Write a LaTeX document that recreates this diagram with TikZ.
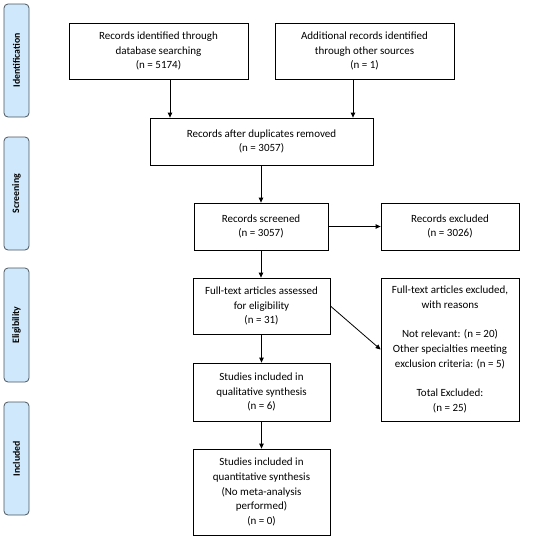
\documentclass[tikz,border=0pt]{standalone}
\usepackage{fontspec}
\setmainfont{Carlito}
\usepackage{xcolor}
\usetikzlibrary{positioning, arrows.meta, calc}
\definecolor{phaseblue}{HTML}{CFE8FB}
\definecolor{phaseedge}{HTML}{4A5560}

\begin{document}
\begin{tikzpicture}[x=1pt, y=-1pt,
    box/.style={draw, line width=0.8pt, align=center, inner sep=2pt,
                font=\fontsize{11}{14.7}\selectfont},
    phase/.style={draw=phaseedge, fill=phaseblue, rounded corners=4pt, line width=0.8pt,
                  minimum width=25pt},
    phasetext/.style={rotate=90, font=\fontsize{9.8}{12}\selectfont\bfseries},
    arr/.style={-{Triangle[length=5pt, width=4.5pt]}, line width=0.8pt},
]
\useasboundingbox (0,0) rectangle (550,539);

% Phase labels (left)
\node[phase, minimum height=113pt] (pid) at (16.5, 60.5) {};
\node[phasetext] (tid) at (pid) {Identification};
\node[phase, minimum height=113pt] (pscr) at (16.5, 193.5) {};
\node[phasetext] (tscr) at (pscr) {Screening};
\node[phase, minimum height=114pt] (pel) at (16.5, 325) {};
\node[phasetext] (tel) at (pel) {Eligibility};
\node[phase, minimum height=113pt] (pinc) at (16.5, 458.5) {};
\node[phasetext] (tinc) at (pinc) {Included};

% Flow boxes
\node[box, minimum width=179pt, minimum height=56pt] (dbrec) at (158.5, 51)
  {Records identified through\\database searching\\(n = 5174)};
\node[box, minimum width=179pt, minimum height=56pt] (othrec) at (364.5, 51)
  {Additional records identified\\through other sources\\(n = 1)};
\node[box, minimum width=223pt, minimum height=47pt] (dedup) at (261.5, 141.5)
  {Records after duplicates removed\\(n = 3057)};
\node[box, minimum width=134pt, minimum height=47pt] (screened) at (261, 226.5)
  {Records screened\\(n = 3057)};
\node[box, minimum width=138pt, minimum height=47pt] (recexcl) at (450, 226.5)
  {Records excluded\\(n = 3026)};
\node[box, minimum width=137pt, minimum height=56pt] (fulltext) at (261.5, 306)
  {Full-text articles assessed\\for eligibility\\(n = 31)};
\node[box, minimum width=138pt, minimum height=143pt] (ftexcl) at (450, 349.5)
  {Full-text articles excluded,\\with reasons\\[14.7pt]Not relevant: (n = 20)\\Other specialties meeting\\exclusion criteria: (n = 5)\\[14.7pt]Total Excluded:\\(n = 25)};
\node[box, minimum width=137pt, minimum height=58pt] (qual) at (261.5, 392)
  {Studies included in\\qualitative synthesis\\(n = 6)};
\node[box, minimum width=137pt, minimum height=86pt] (quant) at (261.5, 492)
  {Studies included in\\quantitative synthesis\\(No meta-analysis\\performed)\\(n = 0)};

% Connectors
\draw[arr] ([xshift=11.5pt]dbrec.south) -- ([xshift=11.5pt]dbrec.south |- dedup.north);
\draw[arr] ([xshift=-11.5pt]othrec.south) -- ([xshift=-11.5pt]othrec.south |- dedup.north);
\draw[arr] (dedup.south -| screened.north) -- (screened.north);
\draw[arr] (screened.east) -- (recexcl.west);
\draw[arr] (screened.south) -- (screened.south |- fulltext.north);
\draw[arr] (fulltext.east) -- (ftexcl.west);
\draw[arr] (fulltext.south) -- (qual.north);
\draw[arr] (qual.south) -- (quant.north);

\end{tikzpicture}
\end{document}
